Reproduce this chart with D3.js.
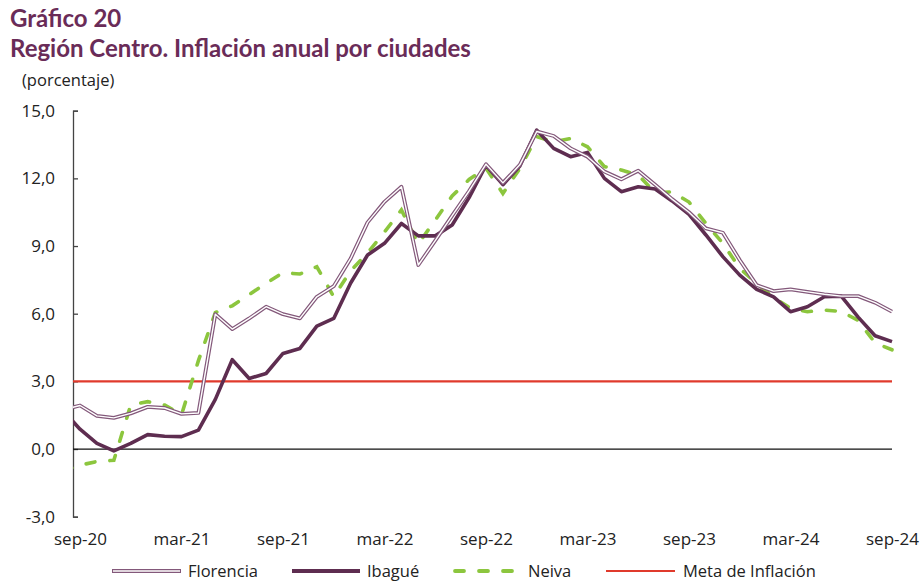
<!DOCTYPE html>
<html><head><meta charset="utf-8">
<script src="https://cdn.jsdelivr.net/npm/d3@7"></script>
<style>
html,body{margin:0;padding:0;background:#fff;}
</style>
</head><body>
<svg id="c" width="920" height="582"></svg>
<script>
const months = ["ago-20","sep-20","oct-20","nov-20","dic-20","ene-21","feb-21","mar-21","abr-21","may-21","jun-21","jul-21","ago-21",
"sep-21","oct-21","nov-21","dic-21","ene-22","feb-22","mar-22","abr-22","may-22","jun-22","jul-22","ago-22",
"sep-22","oct-22","nov-22","dic-22","ene-23","feb-23","mar-23","abr-23","may-23","jun-23","jul-23","ago-23",
"sep-23","oct-23","nov-23","dic-23","ene-24","feb-24","mar-24","abr-24","may-24","jun-24","jul-24","ago-24","sep-24"];
const tickLabels = ["sep-20","mar-21","sep-21","mar-22","sep-22","mar-23","sep-23","mar-24","sep-24"];
const yTicks = [-3,0,3,6,9,12,15];
const florencia = [1.75,1.93,1.47,1.38,1.58,1.87,1.82,1.56,1.60,5.98,5.32,5.79,6.31,5.98,5.79,6.75,7.22,8.45,10.05,10.96,11.63,8.16,9.24,10.35,11.44,12.63,11.8,12.6,14.08,13.88,13.33,12.96,12.3,11.96,12.34,11.72,11.08,10.5,9.78,9.59,8.38,7.27,7.0,7.08,6.97,6.86,6.78,6.78,6.49,6.09];
const ibague = [1.7,0.88,0.25,-0.08,0.25,0.64,0.57,0.55,0.84,2.2,3.96,3.13,3.35,4.24,4.46,5.45,5.79,7.36,8.6,9.12,10.0,9.45,9.45,9.93,11.15,12.58,11.72,12.55,14.14,13.33,12.96,13.15,12.0,11.41,11.63,11.53,11.0,10.4,9.49,8.53,7.71,7.08,6.75,6.09,6.31,6.75,6.78,5.85,5.02,4.76];
const neiva = [-0.95,-0.72,-0.55,-0.5,1.95,2.1,1.95,1.52,3.92,6.05,6.35,6.85,7.35,7.82,7.76,8.08,6.75,7.9,8.7,9.62,10.6,9.1,10.15,11.22,11.95,12.45,11.33,12.44,13.85,13.62,13.77,13.4,12.52,12.37,12.15,11.36,11.4,10.95,10.0,9.12,8.01,7.34,6.72,6.24,6.09,6.16,6.1,5.7,4.7,4.4];
const meta = 3;
const seriesNames = ["Florencia","Ibagué","Neiva","Meta de Inflación"];

const svg = d3.select("#c");
const titleColor = "#6a2c58";
const cFlo = "#83587a", cIba = "#5e2d50", cNei = "#8cc63e", cMeta = "#e03a2c";
const tf = "Lato, sans-serif", bf = "'Open Sans', sans-serif";

svg.append("text").attr("x",10).attr("y",27).style("font-size","24px").style("font-weight","bold").style("font-family",tf).attr("fill",titleColor).text("Gráfico 20");
svg.append("text").attr("x",10).attr("y",57).style("font-size","24px").style("font-weight","bold").style("font-family",tf).attr("fill",titleColor).text("Región Centro. Inflación anual por ciudades");
svg.append("text").attr("x",22).attr("y",86).style("font-size","16.5px").style("font-family",bf).attr("fill","#222").text("(porcentaje)");

const x = d3.scalePoint().domain(months).range([63.08, 892]);
const y = d3.scaleLinear().domain([-3,15]).range([516.7,110.7]);
const left = 73, right = 892;

svg.append("defs").append("clipPath").attr("id","clip").append("rect")
  .attr("x",left).attr("y",90).attr("width",right-left+10).attr("height",450);

const fmt = v => d3.format(".1f")(v).replace(".",",").replace("\u2212","-");
const yAxis = svg.append("g").attr("transform",`translate(${left},0)`)
  .call(d3.axisLeft(y).tickValues(yTicks).tickFormat(fmt).tickSizeInner(-5).tickSizeOuter(-5).tickPadding(18));
yAxis.select(".domain").attr("stroke","#444").attr("stroke-width",1.3);
yAxis.selectAll(".tick line").attr("stroke","#444").attr("stroke-width",1.3);
yAxis.selectAll(".tick text").style("font-size","17px").attr("fill","#222").style("font-family",bf);

const xAxis = svg.append("g").attr("transform",`translate(0,530)`)
  .call(d3.axisBottom(x).tickValues(tickLabels).tickSize(0).tickPadding(3));
xAxis.select(".domain").remove();
xAxis.selectAll(".tick text").style("font-size","17px").attr("fill","#222").style("font-family",bf);

svg.append("line").attr("x1",left).attr("x2",right).attr("y1",y(0)).attr("y2",y(0)).attr("stroke","#111").attr("stroke-width",1.2);
svg.append("line").attr("x1",left).attr("x2",right).attr("y1",y(meta)).attr("y2",y(meta)).attr("stroke",cMeta).attr("stroke-width",2.2);

const line = d3.line().x((d,i)=>x(months[i])).y(d=>y(d));
const g = svg.append("g").attr("clip-path","url(#clip)");
g.append("path").attr("d",line(neiva)).attr("fill","none").attr("stroke",cNei).attr("stroke-width",3.6)
  .attr("stroke-dasharray","9,15").attr("stroke-linecap","round");
g.append("path").attr("d",line(ibague)).attr("fill","none").attr("stroke",cIba).attr("stroke-width",3.6).attr("stroke-linejoin","round");
g.append("path").attr("d",line(florencia)).attr("fill","none").attr("stroke",cFlo).attr("stroke-width",3.8).attr("stroke-linejoin","round");
g.append("path").attr("d",line(florencia)).attr("fill","none").attr("stroke","#fff").attr("stroke-width",1.4).attr("stroke-linejoin","round");

const ly = 571;
const leg = [
  {name:seriesNames[0], x1:112, x2:181, tx:188},
  {name:seriesNames[1], x1:292, x2:360, tx:367},
  {name:seriesNames[2], x1:451, x2:518, tx:528},
  {name:seriesNames[3], x1:606, x2:675, tx:683}
];
const lg = svg.append("g");
lg.append("line").attr("x1",leg[0].x1).attr("x2",leg[0].x2).attr("y1",ly).attr("y2",ly).attr("stroke",cFlo).attr("stroke-width",3.8);
lg.append("line").attr("x1",leg[0].x1+1).attr("x2",leg[0].x2-1).attr("y1",ly).attr("y2",ly).attr("stroke","#fff").attr("stroke-width",1.4);
lg.append("line").attr("x1",leg[1].x1).attr("x2",leg[1].x2).attr("y1",ly).attr("y2",ly).attr("stroke",cIba).attr("stroke-width",3.8);
lg.append("line").attr("x1",leg[2].x1+4).attr("x2",leg[2].x2).attr("y1",ly).attr("y2",ly).attr("stroke",cNei).attr("stroke-width",3.8)
  .attr("stroke-dasharray","9,15").attr("stroke-linecap","round");
lg.append("line").attr("x1",leg[3].x1).attr("x2",leg[3].x2).attr("y1",ly).attr("y2",ly).attr("stroke",cMeta).attr("stroke-width",2.2);
leg.forEach(d=>{
  lg.append("text").attr("x",d.tx).attr("y",ly+6).style("font-size","16.5px").style("font-family",bf).attr("fill","#222").text(d.name);
});
</script>
</body></html>
